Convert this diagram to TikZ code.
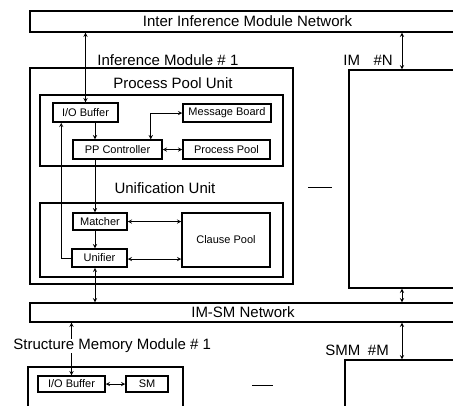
\documentclass[tikz,border=0pt]{standalone}
\usepackage{fontspec}
\setmainfont{Liberation Sans}
\usetikzlibrary{positioning}

\begin{document}
\begin{tikzpicture}[%
    x=1pt,y=-1pt,>=stealth,line width=0.9pt,
    net/.style={draw,line width=1.3pt,font=\fontsize{15}{15}\selectfont},
    module/.style={draw,line width=1.3pt},
    unitbox/.style={draw,line width=1.1pt},
    part/.style={%
      draw,line width=1.5pt,inner sep=0pt,font=\fontsize{11}{11}\selectfont},
    title/.style={font=\fontsize{15}{15}\selectfont,inner sep=0pt}
  ]
    \clip (0,0) rectangle (453,405);
    \coordinate (spine) at (95,0);
    \coordinate (rspine) at (402,0);

    % networks
    \node[net,minimum width=435pt,minimum height=21pt] (iimn) at (247.5,21.5) {Inter Inference Module Network};
    \node[net,minimum width=426pt,minimum height=19pt] (imsm) at (243,312.5) {IM-SM Network};

    % inference module #1
    \node[module,minimum width=263pt,minimum height=216pt] (im1) at (161.5,176) {};
    \node[title,anchor=west] (im1lab) at (97,60) {Inference Module \# 1};
    \node[unitbox,minimum width=243pt,minimum height=71pt] (ppu) at (161.5,130.5) {};
    \node[title] (pplab) at (173,83) {Process Pool Unit};
    \node[unitbox,minimum width=243pt,minimum height=74pt] (uu) at (161.5,240) {};
    \node[title] (uulab) at (165,188) {Unification Unit};

    \node[part,minimum width=65pt,minimum height=19pt] (iobuf)      at (85.5,112.5) {I/O Buffer};
    \node[part,minimum width=88pt,minimum height=18pt] (msgboard)   at (227,113)    {Message Board};
    \node[part,minimum width=89pt,minimum height=19pt] (ppctrl)     at (117.5,149.5) {PP Controller};
    \node[part,minimum width=87pt,minimum height=19pt] (procpool)   at (226.5,149.5) {Process Pool};
    \node[part,minimum width=54pt,minimum height=17pt] (matcher)    at (100,221.5)  {Matcher};
    \node[part,minimum width=55pt,minimum height=18pt] (unifier)    at (99.5,258)   {Unifier};
    \node[part,minimum width=88pt,minimum height=54pt] (clausepool) at (226,240)    {Clause Pool};

    % inference module #N
    \node[module,minimum width=131pt,minimum height=218pt] (imN) at (414.5,179) {};
    \node[title,anchor=west] (imNlab) at (343,60) {IM\hspace{0.9em}\#N};

    % structure memory modules
    \node[module,minimum width=155pt,minimum height=53pt] (smm1) at (105.5,393.5) {};
    \node[title,anchor=west] (smm1lab) at (13,346) {Structure Memory Module \# 1};
    \node[part,minimum width=67pt,minimum height=16pt] (smiobuf) at (71.5,384) {I/O Buffer};
    \node[part,minimum width=42pt,minimum height=16pt] (sm)      at (147,384)  {SM};
    \node[module,minimum width=135pt,minimum height=60pt] (smmM) at (412.5,390) {};
    \node[title,anchor=west] (smmMlab) at (325,350) {SMM\hspace{0.5em}\#M};

    % connections
    \draw[<->] (iobuf.north) -- (iobuf.north |- iimn.south);
    \draw[->] (iobuf.south -| spine) -- (ppctrl.north -| spine);
    \draw[<->] ([xshift=-12pt]ppctrl.north east) |- (msgboard.west);
    \draw[<->] (ppctrl.east) -- (procpool.west);
    \draw[->] (ppctrl.south -| spine) -- (matcher.north -| spine);
    \draw[->] (matcher.south -| spine) -- (unifier.north -| spine);
    \draw[<->] (matcher.east) -- (matcher.east -| clausepool.west);
    \draw[<->] ([yshift=-1pt]unifier.east) -- ([yshift=-1pt]unifier.east -| clausepool.west);
    \draw[->] (unifier.west) -| ([xshift=9pt]iobuf.south west);
    \draw[<->] (unifier.south -| spine) -- (imsm.north -| spine);
    \draw[->] (smm1lab.north -| smiobuf) -- (imsm.south -| smiobuf);
    \draw[->] (smm1lab.south -| smiobuf) -- (smiobuf.north);
    \draw[<->] (smiobuf.east) -- (sm.west);
    \draw[<->] (imN.north -| rspine) -- (iimn.south -| rspine);
    \draw[<->] (imN.south -| rspine) -- (imsm.north -| rspine);
    \draw[<->] (smmM.north -| rspine) -- (imsm.south -| rspine);

    % dots between modules
    \draw (308,187) -- (332,187);
    \draw (252,385) -- (273,385);
\end{tikzpicture}
\end{document}
